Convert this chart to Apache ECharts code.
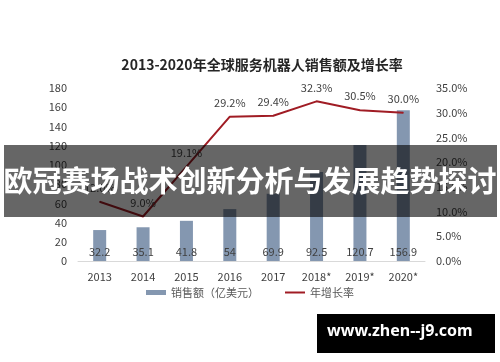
<!DOCTYPE html>
<html><head><meta charset="utf-8">
<script src="https://cdn.jsdelivr.net/npm/echarts@6/dist/echarts.min.js"></script>
<style>html,body{margin:0;padding:0;background:#fff}#c{width:500px;height:362px}</style>
</head><body><div id="c"></div>
<script>
const categories = ['2013','2014','2015','2016','2017','2018*','2019*','2020*'];
const sales = [32.2, 35.1, 41.8, 54, 69.9, 92.5, 120.7, 156.9];
const growth = [12.0, 9.0, 19.1, 29.2, 29.4, 32.3, 30.5, 30.0];
const titleText = '2013-2020年全球服务机器人销售额及增长率';
const bannerText = '欧冠赛场战术创新分析与发展趋势探讨';
const watermarkText = 'www.zhen--j9.com';

const font = '"Noto Sans CJK SC", "Noto Sans", sans-serif';
const chart = echarts.init(document.getElementById('c'), null, {renderer:'canvas'});
chart.setOption({
  animation:false,
  title:{text:titleText, left:257, textAlign:'center', top:53,
    textStyle:{fontFamily:font, fontSize:14, fontWeight:'bold', color:'#262626'}},
  grid:{left:78, right:75, top:88, bottom:101},
  legend:{bottom:59, left:'center', itemGap:26, itemWidth:20, itemHeight:5,
    textStyle:{fontFamily:font, fontSize:11, color:'#595959'},
    data:[{name:'销售额（亿美元）', icon:'rect'},
          {name:'年增长率', icon:'path://M0,0 L20,0 L20,2 L0,2 Z'}]},
  xAxis:{type:'category', data:categories,
    axisLine:{lineStyle:{color:'#d9d9d9'}}, axisTick:{show:false},
    axisLabel:{fontFamily:font, fontSize:11, color:'#404040', margin:10}},
  yAxis:[
    {type:'value', min:0, max:180, interval:20, splitLine:{show:false},
     axisLine:{show:false}, axisTick:{show:false},
     axisLabel:{fontFamily:font, fontSize:11, color:'#404040', margin:11}},
    {type:'value', min:0, max:35, interval:5, splitLine:{show:false},
     axisLine:{show:false}, axisTick:{show:false},
     axisLabel:{fontFamily:font, fontSize:11, color:'#404040', margin:11,
       formatter:v=>v.toFixed(1)+'%'}}
  ],
  series:[
    {name:'销售额（亿美元）', type:'bar', data:sales, barWidth:13, yAxisIndex:0,
     itemStyle:{color:'#8497b0'},
     label:{show:true, position:'insideBottom', distance:4, color:'#404040',
       fontFamily:font, fontSize:11}},
    {name:'年增长率', type:'line', data:growth, yAxisIndex:1,
     symbol:'circle', symbolSize:1, showSymbol:true,
     lineStyle:{color:'#a01c24', width:2}, itemStyle:{color:'#a01c24'},
     label:{show:true, position:'top', distance:8, color:'#404040',
       fontFamily:font, fontSize:11, formatter:p=>p.value.toFixed(1)+'%'}}
  ],
  graphic:[
    {type:'rect', left:4, top:145, z:100, shape:{width:493, height:72},
     style:{fill:'rgba(0,0,0,0.6)'}},
    {type:'text', left:'center', top:166, z:101,
     style:{text:bannerText, fill:'#fff', font:'bold 29px "Noto Sans CJK SC", sans-serif'}},
    {type:'rect', left:317, top:314, z:100, shape:{width:178, height:39},
     style:{fill:'#000'}},
    {type:'text', left:327, top:323, z:101,
     style:{text:watermarkText, fill:'#fff', font:'bold 16px "Noto Sans", sans-serif'}}
  ]
});
</script></body></html>
